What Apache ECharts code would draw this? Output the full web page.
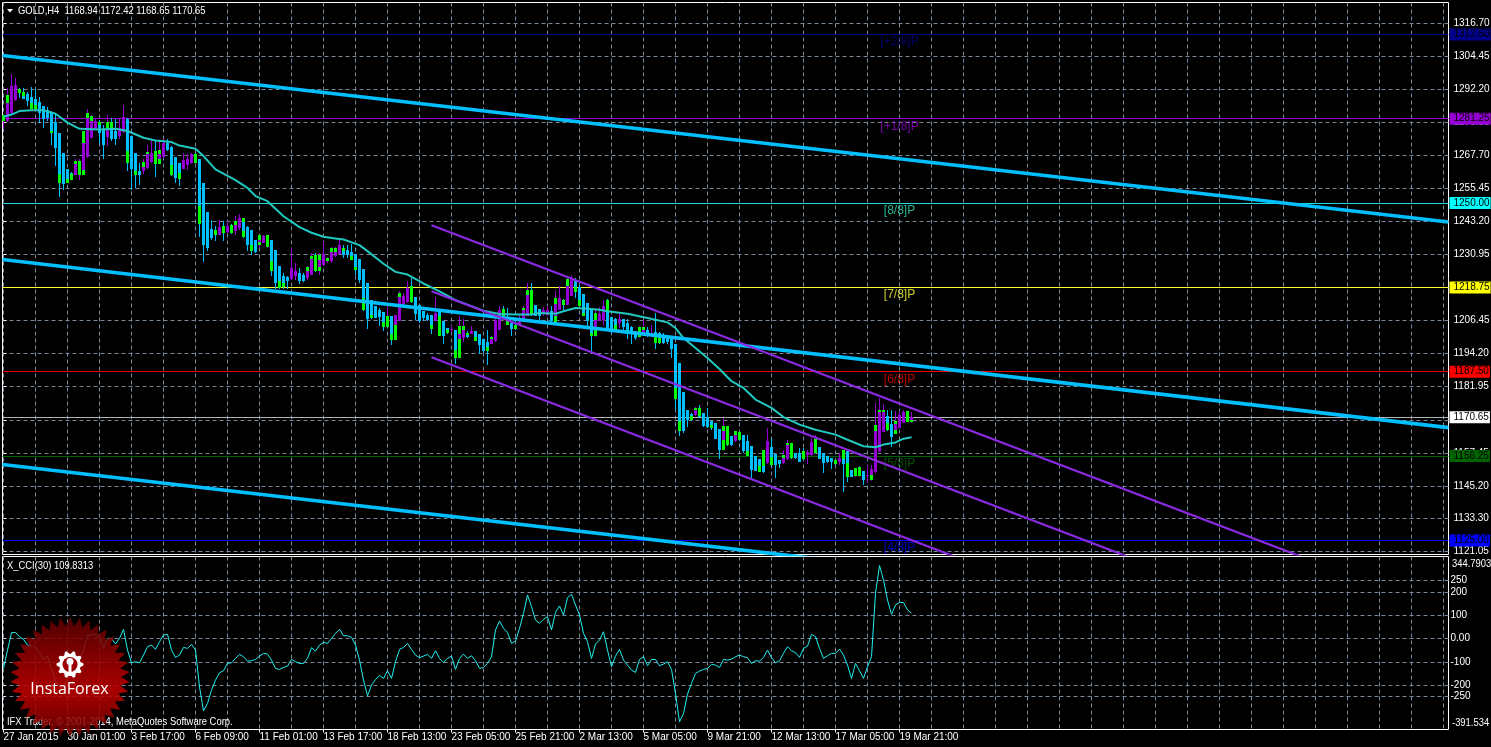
<!DOCTYPE html>
<html><head><meta charset="utf-8">
<style>html,body{margin:0;padding:0;background:#000}#c{width:1491px;height:747px}</style>
<script src="https://cdn.jsdelivr.net/npm/echarts@6/dist/echarts.min.js"></script>
</head><body><div id="c"></div>
<script>
// one row per 4h bar: [open, close, low, high]
const ohlc = [
[1280.4,1282.8,1277.3,1282.8],[1280.4,1289.6,1280.0,1292.7],[1283.2,1293.3,1282.8,1297.7],[1288.2,1293.6,1287.8,1296.2],
[1292.3,1290.9,1289.0,1292.7],[1291.1,1288.6,1288.4,1292.7],[1290.3,1287.8,1285.9,1291.1],[1289.4,1284.9,1284.7,1293.1],
[1288.4,1284.9,1284.7,1292.1],[1287.6,1283.2,1279.5,1289.4],[1285.9,1281.2,1277.9,1285.9],[1284.4,1281.6,1280.4,1285.7],
[1283.5,1275.8,1271.7,1284.1],[1280.1,1270.5,1263.7,1283.5],[1275.8,1257.5,1252.2,1275.8],[1268.4,1256.9,1255.0,1268.4],
[1262.8,1257.5,1257.3,1262.8],[1261.2,1258.7,1258.5,1261.5],[1260.3,1264.9,1260.3,1266.2],[1260.3,1265.5,1258.4,1266.4],
[1260.3,1276.6,1260.3,1276.6],[1267.0,1283.5,1266.8,1284.7],[1274.0,1282.2,1274.0,1282.8],[1277.0,1280.4,1277.0,1281.0],
[1280.0,1275.8,1272.1,1280.7],[1277.5,1271.7,1266.2,1279.1],[1274.6,1280.1,1271.1,1282.5],[1280.1,1273.9,1272.9,1281.6],
[1276.7,1273.9,1271.7,1281.0],[1275.0,1277.9,1273.8,1281.2],[1276.3,1282.0,1276.0,1286.2],[1281.0,1264.7,1261.8,1281.6],
[1274.8,1262.5,1255.0,1274.8],[1268.6,1260.3,1255.6,1268.6],[1261.8,1260.3,1256.6,1264.9],[1261.8,1265.3,1260.6,1266.2],
[1263.1,1268.0,1262.5,1271.7],[1265.3,1268.6,1264.9,1273.8],[1269.2,1264.3,1259.6,1273.0],[1264.3,1269.6,1264.3,1273.0],
[1267.0,1272.3,1266.8,1273.6],[1272.1,1269.6,1269.2,1273.6],[1270.7,1260.3,1260.0,1271.1],[1267.1,1259.4,1257.5,1267.1],
[1264.7,1259.1,1256.3,1264.9],[1262.8,1265.8,1262.5,1268.4],[1264.0,1266.2,1262.2,1268.0],[1264.7,1268.0,1264.3,1268.6],
[1268.0,1264.7,1264.7,1268.6],[1266.2,1242.4,1237.5,1266.2],[1257.5,1234.6,1228.1,1257.5],[1246.6,1233.4,1232.2,1246.6],
[1240.4,1236.9,1236.5,1243.9],[1239.9,1238.1,1235.9,1241.4],[1238.3,1241.2,1238.3,1243.9],[1241.4,1239.0,1235.9,1243.3],
[1239.3,1241.4,1239.0,1243.3],[1242.0,1239.0,1238.7,1242.4],[1239.6,1243.3,1238.3,1245.1],[1240.8,1244.3,1240.2,1245.8],
[1244.3,1237.5,1237.1,1244.5],[1241.2,1234.6,1232.2,1241.4],[1239.9,1232.2,1230.6,1239.9],[1236.5,1231.9,1231.5,1236.5],
[1234.3,1238.0,1233.4,1238.3],[1235.3,1237.7,1235.3,1238.3],[1233.8,1238.0,1233.4,1238.3],[1236.2,1224.8,1222.9,1236.2],
[1232.5,1220.4,1218.0,1232.5],[1226.8,1218.6,1218.0,1226.8],[1223.1,1219.0,1218.0,1224.1],[1222.5,1221.0,1218.0,1222.9],
[1221.7,1226.0,1221.4,1233.4],[1223.1,1224.7,1221.4,1227.8],[1224.1,1221.0,1220.0,1226.0],[1223.3,1221.0,1220.6,1224.1],
[1222.3,1226.3,1221.6,1226.6],[1223.5,1229.3,1223.5,1231.5],[1230.9,1224.7,1224.4,1231.5],[1226.3,1228.8,1223.5,1231.5],
[1227.2,1231.2,1226.8,1235.6],[1228.7,1229.7,1227.8,1230.0],[1228.5,1231.8,1227.8,1233.6],[1230.3,1233.4,1230.0,1233.8],
[1231.3,1234.6,1231.0,1236.9],[1233.4,1230.7,1229.7,1234.6],[1232.5,1230.7,1229.7,1234.3],[1231.9,1228.8,1228.8,1234.9],
[1231.3,1225.1,1223.5,1231.3],[1229.1,1221.6,1220.2,1229.1],[1225.6,1210.2,1209.9,1225.6],[1220.4,1207.2,1203.5,1220.4],
[1214.2,1207.4,1207.2,1214.2],[1211.8,1207.4,1207.4,1211.8],[1210.2,1207.7,1204.4,1211.1],[1209.5,1204.1,1202.5,1209.5],
[1204.1,1208.1,1204.1,1211.8],[1208.3,1199.4,1197.3,1208.3],[1199.4,1208.7,1199.4,1208.7],[1206.4,1216.7,1206.4,1217.6],
[1212.6,1215.7,1212.4,1216.7],[1213.2,1218.6,1213.0,1221.3],[1219.4,1213.2,1213.0,1222.3],[1215.1,1209.0,1206.6,1215.1],
[1212.4,1206.4,1205.6,1212.4],[1209.9,1207.4,1206.2,1209.9],[1208.7,1206.8,1206.2,1209.3],[1208.4,1203.5,1201.5,1208.7],
[1206.4,1209.3,1206.2,1215.2],[1209.9,1200.6,1200.6,1209.9],[1206.2,1200.6,1197.9,1206.2],[1203.7,1201.9,1201.6,1203.7],
[1202.8,1203.4,1202.3,1205.0],[1203.1,1192.6,1190.5,1203.1],[1192.6,1204.6,1192.6,1208.1],[1200.0,1204.6,1198.4,1207.1],
[1201.9,1200.4,1200.0,1202.5],[1201.6,1202.7,1201.3,1204.6],[1202.5,1199.0,1198.8,1202.5],[1201.3,1197.5,1194.2,1201.3],
[1199.6,1195.3,1194.5,1199.6],[1198.5,1195.3,1190.1,1203.1],[1197.9,1200.4,1197.9,1200.9],[1198.8,1206.8,1198.5,1207.4],
[1202.8,1210.5,1202.8,1211.8],[1210.9,1208.1,1208.1,1211.8],[1206.2,1205.0,1204.7,1211.1],[1205.6,1203.5,1200.9,1206.2],
[1205.0,1203.5,1203.1,1206.8],[1205.0,1207.4,1204.7,1208.7],[1207.2,1210.5,1206.8,1211.8],[1208.3,1216.1,1208.1,1220.2],
[1217.9,1208.4,1208.1,1220.2],[1212.4,1208.3,1208.1,1212.4],[1210.8,1208.3,1206.4,1210.8],[1209.3,1210.5,1208.1,1211.5],
[1208.7,1210.5,1208.1,1211.8],[1209.9,1206.2,1205.9,1211.8],[1205.9,1214.8,1205.9,1217.6],[1210.5,1214.8,1210.5,1219.4],
[1214.2,1212.4,1210.5,1214.5],[1212.4,1221.9,1212.2,1222.3],[1215.7,1222.3,1215.7,1223.5],[1221.6,1217.0,1214.9,1222.3],
[1218.9,1211.8,1211.8,1219.8],[1216.3,1208.3,1208.3,1216.3],[1213.0,1206.4,1204.6,1213.0],[1210.2,1200.9,1195.3,1210.2],
[1200.9,1209.3,1200.3,1211.1],[1206.4,1208.9,1206.2,1211.4],[1206.8,1211.8,1205.0,1214.2],[1214.2,1203.1,1203.1,1214.5],
[1207.8,1203.1,1201.3,1207.8],[1207.1,1203.4,1202.9,1207.4],[1205.6,1207.1,1203.7,1209.3],[1207.1,1204.1,1203.1,1207.1],
[1205.6,1201.3,1199.7,1207.1],[1204.0,1201.3,1197.9,1204.4],[1202.5,1200.0,1199.4,1202.5],[1200.3,1204.1,1200.0,1204.4],
[1201.3,1204.1,1201.0,1206.8],[1203.1,1201.3,1200.4,1204.1],[1200.6,1201.9,1200.4,1205.0],[1202.1,1198.2,1195.9,1209.3],
[1201.9,1198.2,1197.6,1202.1],[1200.4,1198.2,1197.6,1201.9],[1200.3,1198.4,1197.9,1201.0],[1200.3,1196.1,1192.6,1200.3],
[1197.9,1177.4,1173.4,1197.9],[1190.8,1165.7,1163.6,1190.8],[1180.0,1165.7,1164.8,1180.0],[1173.4,1169.7,1167.0,1173.4],
[1172.0,1169.7,1169.1,1172.2],[1171.3,1173.9,1171.0,1174.4],[1174.1,1170.6,1170.2,1175.3],[1172.2,1167.3,1167.0,1172.2],
[1170.7,1167.0,1166.7,1174.1],[1169.1,1166.7,1166.0,1169.1],[1168.5,1162.7,1162.6,1168.5],[1166.3,1158.6,1155.2,1166.3],
[1158.6,1167.5,1158.4,1170.4],[1167.5,1160.5,1159.9,1167.5],[1163.6,1160.2,1159.9,1163.6],[1161.7,1165.2,1161.3,1165.4],
[1165.2,1162.3,1161.7,1165.2],[1163.9,1158.0,1157.4,1164.2],[1161.7,1156.4,1156.4,1164.2],[1159.9,1151.2,1147.5,1159.9],
[1156.1,1150.9,1150.6,1156.1],[1155.3,1150.2,1150.2,1155.3],[1158.6,1150.2,1150.0,1158.6],[1153.7,1161.7,1153.3,1166.6],
[1159.6,1153.0,1152.7,1162.9],[1157.1,1152.8,1148.1,1157.1],[1154.9,1153.4,1151.8,1154.9],[1153.7,1156.8,1153.4,1158.6],
[1155.3,1160.8,1154.9,1162.1],[1161.1,1155.5,1155.3,1161.1],[1157.4,1155.5,1155.2,1157.4],[1157.4,1154.0,1154.0,1159.2],
[1158.0,1155.2,1154.9,1159.2],[1156.5,1157.6,1153.4,1158.6],[1156.8,1161.3,1156.4,1162.9],[1157.4,1162.6,1157.0,1164.2],
[1159.6,1155.3,1155.2,1159.6],[1157.4,1153.7,1150.0,1157.4],[1156.1,1154.0,1153.8,1156.1],[1155.4,1154.0,1151.4,1155.4],
[1154.9,1153.4,1153.1,1154.9],[1154.0,1155.4,1153.1,1157.4],[1158.4,1153.4,1142.8,1158.6],[1158.0,1148.4,1146.5,1158.0],
[1151.2,1148.4,1148.4,1151.2],[1148.7,1151.8,1148.4,1151.8],[1148.7,1152.1,1148.4,1152.4],[1150.6,1147.5,1145.6,1150.6],
[1149.2,1149.4,1146.3,1153.0],[1147.5,1151.4,1147.2,1153.0],[1150.2,1167.9,1150.0,1175.9],[1157.6,1173.5,1157.6,1177.8],
[1165.0,1173.5,1165.0,1175.7],[1171.2,1165.8,1165.4,1173.5],[1168.3,1163.3,1159.6,1173.5],[1164.6,1169.4,1164.6,1173.1],
[1166.7,1171.6,1166.7,1173.1],[1168.5,1172.5,1168.5,1173.5],[1172.8,1168.9,1168.9,1173.0],[1168.94,1170.65,1168.65,1172.42]
];
// green stretches painted over bodies: [bar, top price, bottom price]
const greenParts = [
[0,1282.8,1280.4],[1,1289.9,1286.9],[4,1292.3,1290.9],[5,1291.1,1289.8],[7,1286.9,1284.9],[8,1286.5,1284.9],[12,1276.6,1275.8],
[14,1260.6,1257.5],[16,1259.1,1257.5],[17,1260.6,1258.7],[18,1265.5,1264.3],[19,1265.5,1260.3],[20,1276.6,1272.1],[20,1262.2,1260.3],
[21,1283.5,1281.6],[22,1282.2,1280.4],[24,1280.0,1279.0],[26,1280.1,1277.9],[27,1280.1,1277.0],[31,1269.2,1264.7],[33,1261.8,1260.3],
[35,1265.3,1263.5],[36,1269.0,1268.0],[38,1269.2,1264.3],[39,1269.6,1268.0],[39,1266.4,1264.3],[42,1264.1,1260.3],[44,1261.2,1259.1],
[48,1268.0,1264.7],[49,1248.8,1242.4],[53,1239.9,1238.1],[55,1241.4,1239.0],[57,1242.0,1239.0],[58,1243.3,1242.0],[60,1244.3,1242.9],
[60,1239.6,1237.5],[62,1234.6,1232.2],[64,1238.0,1236.5],[64,1235.5,1234.3],[66,1238.0,1233.8],[67,1228.5,1224.8],[69,1221.2,1218.6],
[70,1220.4,1219.0],[76,1226.3,1225.0],[77,1230.5,1229.3],[78,1230.9,1224.7],[79,1230.9,1228.8],[79,1226.3,1224.7],[81,1229.7,1228.7],
[82,1233.4,1231.8],[83,1233.4,1232.0],[85,1233.4,1232.2],[87,1230.3,1228.8],[88,1226.3,1225.1],[90,1214.9,1210.2],[92,1208.7,1207.4],
[95,1206.0,1204.1],[96,1208.1,1204.1],[97,1201.6,1199.4],[98,1204.7,1199.4],[99,1216.7,1215.2],[102,1219.4,1213.2],[107,1205.0,1203.5],
[109,1208.0,1200.6],[111,1202.8,1201.9],[113,1195.7,1192.6],[114,1204.6,1201.6],[114,1199.6,1192.6],[115,1204.6,1203.1],[116,1201.9,1201.0],
[118,1200.4,1199.0],[121,1196.5,1195.3],[122,1200.4,1199.6],[125,1210.9,1208.1],[126,1206.2,1205.0],[128,1205.0,1203.5],[130,1211.1,1210.5],
[131,1217.9,1216.1],[132,1217.9,1208.4],[138,1214.8,1212.7],[138,1208.3,1205.9],[140,1214.2,1212.4],[141,1221.9,1219.4],[143,1219.0,1217.0],
[144,1214.0,1211.8],[145,1209.3,1208.3],[147,1201.9,1200.9],[148,1209.3,1206.8],[148,1203.7,1200.9],[151,1214.2,1209.7],[153,1205.0,1203.4],
[156,1203.0,1201.3],[159,1204.1,1202.0],[159,1201.5,1200.3],[160,1204.1,1203.0],[163,1201.0,1198.2],[164,1200.0,1198.2],[168,1181.5,1177.4],
[169,1169.1,1165.7],[172,1171.0,1169.7],[173,1173.9,1173.2],[174,1174.1,1171.0],[177,1167.9,1166.7],[180,1167.5,1165.4],[180,1162.3,1158.6],
[181,1167.5,1160.5],[183,1165.4,1164.2],[184,1165.2,1162.3],[186,1158.0,1156.4],[189,1152.5,1150.2],[190,1158.6,1152.4],[192,1156.0,1153.0],
[195,1156.8,1155.6],[196,1161.0,1160.4],[197,1161.1,1155.5],[200,1158.0,1155.2],[203,1162.6,1157.4],[208,1154.9,1153.4],[210,1158.4,1155.0],
[211,1153.7,1148.4],[213,1151.8,1148.7],[214,1152.1,1148.7],[217,1149.4,1147.5],[218,1167.9,1165.4],[219,1173.5,1172.5],[220,1173.5,1172.6],
[221,1168.5,1165.8],[223,1169.4,1168.3],[223,1166.0,1164.6],[226,1172.8,1168.9],[227,1169.8,1168.94]
];
// moving average readings: bar index and price
const maBars = [0,2,4,7,10,13,16,19,24,28,31,35,38,42,44,48,50,53,58,61,63,66,70,74,77,80,83,85,89,91,95,98,101,105,109,113,117,120,124,128,132,134,138,140,143,146,149,151,156,161,166,168,170,173,176,179,182,185,188,192,195,199,203,208,211,215,218,220,223,225,227];
const maValues = [1282.0,1282.8,1284.1,1284.4,1284.4,1283.1,1279.8,1277.5,1277.3,1277.5,1276.7,1274.2,1273.2,1272.6,1271.3,1270.1,1267.4,1262.5,1258.5,1255.6,1252.6,1250.7,1245.1,1241.1,1239.0,1237.5,1236.9,1236.5,1234.4,1232.2,1227.5,1224.5,1223.5,1220.2,1217.3,1214.0,1211.8,1210.1,1208.9,1208.7,1208.7,1209.3,1209.0,1209.9,1211.1,1210.8,1210.5,1209.9,1209.0,1207.4,1205.8,1203.7,1200.0,1196.3,1192.6,1188.5,1184.0,1181.5,1177.2,1174.1,1170.7,1167.9,1166.0,1164.2,1162.3,1159.9,1159.5,1160.5,1161.3,1162.7,1163.2];
// CCI(30), one value per bar
const cciValues = [
-128.7,-49.7,25,26.5,7.8,-3.7,-28,-32.5,-35.3,-64,-90,-75.6,-128.7,-186,-200.6,-215,-171.8,-161.8,-128.7,-92.8,-49.7,15,15,19.3,4.9,-42.5,0.6,0.6,-23.8,0.6,39.4,-49.7,-104.3,-100,-104.3,-71.3,-35.3,-28.1,-46.8,-13.8,15,17.8,-49.7,-81.3,-71.3,-38.2,-42.5,-25.3,-49.7,-207.8,-311.2,-279.6,-222.1,-179,-147.4,-138.8,-107.2,-104.3,-85.6,-68.4,-78.4,-97.1,-95.7,-90,-75.6,-64,-66.9,-92.8,-128.7,-133,-124.4,-118.7,-90,-100,-107.2,-107.2,-85.6,-39.6,-54,-28.1,-16.6,-21,0.6,22.1,39.4,
12,12,4.9,-28.1,-92.8,-179,-246.6,-200.6,-176.2,-158.9,-171.8,-138.8,-171.8,-100,-46.8,-38.2,-21,-46.8,-71.3,-82.7,-75.6,-68.4,-85.6,-52.6,-85.6,-102.9,-85.6,-75.6,-133,-85.6,-66.9,-85.6,-74.1,-95.7,-128.7,-124.4,-107.2,-78.4,36.5,75.3,43.7,26.5,-21,-10.9,43.7,108.4,187.4,137.1,79.6,65.3,82.5,94,36.5,112.7,140,101.2,175.9,190.3,144.3,101.2,22.1,-13.8,-85.6,-23.8,-6.6,29.3,-49.7,-121.6,-75.6,-46.8,-92.8,-114.4,-135.9,-146,-90,-78.4,-117.2,-90,-90,-117.2,-110,-100,-133,-236.5,-358.7,
-322.7,-239.4,-193.4,-150.3,-140.2,-133,-128.7,-111.5,-114.4,-124.4,-90,-92.8,-88.5,-78.4,-71.3,-78.4,-82.7,-107.2,-95.7,-97.1,-81.3,-49.7,-82.7,-104.3,-95.7,-64,-35.3,-52.6,-61.2,-81.3,-42.5,-32.5,17.8,7.8,-42.5,-85.6,-74.1,-64,-64,-45.4,-71.3,-114.4,-171.8,-107.2,-138.8,-171.8,-121.6,-78.4,194.6,313.9,252,165.8,104,144.3,155.8,154.4,122.7,109.83
];
// trend lines: [bar, price] end points
const blueLines = [
 [[-0.25,1304.66],[361.25,1242.96]],
 [[-0.25,1229.06],[361.25,1166.8]],
 [[-0.25,1153.1],[361.25,1091.2]]
];
const channelLines = [
 [[107,1241.77],[361.25,1098.2]],
 [[107,1217.32],[361.25,1073.7]],
 [[107,1192.86],[361.25,1049.3]]
];
const levelValues = [1312.50,1281.25,1250.00,1218.75,1187.50,1156.25,1125.00];
const levelNames  = ['[+2/8]P','[+1/8]P','[8/8]P','[7/8]P','[6/8]P','[5/8]P','[4/8]P'];
const levelColors = ['#00008b','#9400d3','#22d8d8','#ffff33','#ee0000','#006400','#0000ff'];
const levelTextColors = ['#00008b','#9400d3','#30e0b8','#ffff33','#ee0000','#006400','#0000ff'];
const levelBoxColors = ['#00008b','#9400d3','#00ffff','#ffff00','#ff0000','#006400','#0000ff'];
const lastPrice = 1170.65;
const priceTicks = [1316.70,1304.45,1292.20,1279.95,1267.70,1255.45,1243.20,1230.95,1218.70,1206.45,1194.20,1181.95,1169.70,1157.45,1145.20,1133.30,1121.05];
const cciTicks = [250,200,100,0,-100,-200,-250];
const dateLabels = ['27 Jan 2015','30 Jan 01:00','3 Feb 17:00','6 Feb 09:00','11 Feb 01:00','13 Feb 17:00','18 Feb 13:00','23 Feb 05:00','25 Feb 21:00','2 Mar 13:00','5 Mar 05:00','9 Mar 21:00','12 Mar 13:00','17 Mar 05:00','19 Mar 21:00'];

const FONT = '"Liberation Sans",sans-serif';
const GRIDC = '#77889a';
const BLUE = '#00bfff', PURPLE = '#9400d3', GREEN = '#00ff00';
const gridTicks = []; for (let i = 0; i <= 360; i += 8) gridTicks.push(i);
const labelTicks = dateLabels.map((_, k) => k * 16);

const baseX = gi => ({
  type: 'value', gridIndex: gi, min: -0.25, max: 361.25, position: 'bottom',
  axisLine: {show: false},
  axisTick: {show: false, customValues: gridTicks},
  axisLabel: {show: false},
  splitLine: {show: true, lineStyle: {color: GRIDC, width: 1, type: [4, 3]}}
});

function bars(params, api) {
  const i = api.value(0), o = api.value(1), c = api.value(2), l = api.value(3), h = api.value(4);
  const col = c >= o ? PURPLE : BLUE;
  const x = Math.floor(api.coord([i, o])[0]);
  const yo = Math.round(api.coord([i, o])[1]), yc = Math.round(api.coord([i, c])[1]);
  const yl = Math.round(api.coord([i, l])[1]), yh = Math.round(api.coord([i, h])[1]);
  return {type: 'group', children: [
    {type: 'rect', shape: {x: x, y: yh, width: 1, height: Math.max(1, yl - yh)}, style: {fill: col}},
    {type: 'rect', shape: {x: x - 1, y: Math.min(yo, yc), width: 3, height: Math.max(1, Math.abs(yo - yc))}, style: {fill: col}}
  ]};
}
function greens(params, api) {
  const i = api.value(0);
  const x = Math.floor(api.coord([i, api.value(1)])[0]);
  const yt = Math.round(api.coord([i, api.value(1)])[1]), yb = Math.round(api.coord([i, api.value(2)])[1]);
  return {type: 'rect', shape: {x: x - 1, y: yt, width: 3, height: Math.max(1, yb - yt)}, style: {fill: GREEN}};
}

const levelLabel = (txt, bg) => ({show: true, position: 'end', distance: 1, formatter: txt, color: '#000', fontFamily: FONT, fontSize: 10,
  backgroundColor: bg, padding: [1, 1, 1, 4], lineHeight: 10});
const levelLineData = levelValues.map((v, k) => ({
  yAxis: v, lineStyle: {color: levelColors[k], width: 1, type: 'solid'},
  label: levelLabel(v.toFixed(2), levelBoxColors[k])
}));
levelLineData.push({
  yAxis: lastPrice, lineStyle: {color: '#b4b4b4', width: 1, type: 'solid'},
  label: levelLabel(lastPrice.toFixed(2), '#fff')
});

const series = [
  {type: 'line', xAxisIndex: 0, yAxisIndex: 0, data: [], z: 1, silent: true,
   markLine: {silent: true, symbol: 'none', animation: false, z: 1, data: levelLineData}},
  {type: 'scatter', xAxisIndex: 0, yAxisIndex: 0, z: 2, symbolSize: 1, itemStyle: {color: 'rgba(0,0,0,0)'},
   data: levelValues.map((v, k) => ({value: [224, v], label: {show: true, position: 'bottom', distance: 1, formatter: levelNames[k],
     color: levelTextColors[k], fontFamily: FONT, fontSize: 12}}))},
  {type: 'custom', xAxisIndex: 0, yAxisIndex: 0, z: 3, clip: true, renderItem: bars,
   data: ohlc.map((r, i) => [i, r[0], r[1], r[2], r[3]]), encode: {x: 0, y: [1, 2, 3, 4]}},
  {type: 'custom', xAxisIndex: 0, yAxisIndex: 0, z: 4, clip: true, renderItem: greens,
   data: greenParts, encode: {x: 0, y: [1, 2]}},
  {type: 'line', xAxisIndex: 0, yAxisIndex: 0, z: 5, symbol: 'none', lineStyle: {color: '#20c8c0', width: 2},
   data: maBars.map((b, k) => [b, maValues[k]])},
  ...blueLines.map(d => ({type: 'line', xAxisIndex: 0, yAxisIndex: 0, z: 6, symbol: 'none', clip: true, lineStyle: {color: BLUE, width: 3.6}, data: d})),
  ...channelLines.map(d => ({type: 'line', xAxisIndex: 0, yAxisIndex: 0, z: 6, symbol: 'none', clip: true, lineStyle: {color: '#8a2be2', width: 2.2}, data: d})),
  {type: 'line', xAxisIndex: 1, yAxisIndex: 1, z: 3, symbol: 'none', lineStyle: {color: '#20f0f0', width: 1},
   data: cciValues.map((v, i) => [i, v])}
];

// decorative badge
const cx = 70, cy = 677;
const star = [];
for (let k = 0; k < 76; k++) {
  const r = k % 2 ? 51 : 60, t = Math.PI * 2 * k / 76 - Math.PI / 2;
  star.push([cx + r * Math.cos(t), cy + r * Math.sin(t)]);
}
const gear = [];
for (let k = 0; k < 40; k++) {
  const r = (k % 4 < 2) ? 13.5 : 10.8, t = Math.PI * 2 * (k - 0.5) / 40;
  gear.push([cx + r * Math.cos(t), 664.5 + r * Math.sin(t)]);
}
const squeezed = (text, x, y) => ({type: 'text', z: 200, x: x, y: y, scaleX: 0.855, originX: 0,
  style: {text: text, x: 0, y: 0, fill: '#fff', font: '11px ' + FONT, textVerticalAlign: 'middle'}});
const gfx = [
  {type: 'polygon', z: 200, shape: {points: [[7, 9], [13, 9], [10, 12.5]]}, style: {fill: '#fff'}},
  squeezed('GOLD,H4  1168.94 1172.42 1168.65 1170.65', 18, 10.5),
  squeezed('X_CCI(30) 109.8313', 7, 565.5),
  squeezed('IFX Trader, \u00a9 2001-2014, MetaQuotes Software Corp.', 7, 722),
  squeezed('344.7903', 1452, 563.7),
  squeezed('-391.534', 1452, 722.7),
  {type: 'polygon', z: 210, shape: {points: star}, style: {opacity: 0.86, fill: {type: 'linear', x: 0, y: 0, x2: 0, y2: 1,
     colorStops: [{offset: 0, color: '#5c0000'}, {offset: 0.35, color: '#9a0000'}, {offset: 0.62, color: '#c40000'}, {offset: 1, color: '#6c0000'}]}}},
  {type: 'polygon', z: 211, shape: {points: gear}, style: {fill: '#fff'}},
  {type: 'circle', z: 212, shape: {cx: cx, cy: 664.5, r: 7.5}, style: {fill: '#9c0000'}},
  {type: 'circle', z: 213, shape: {cx: cx, cy: 661.5, r: 3.5}, style: {fill: '#fff'}},
  {type: 'rect', z: 213, shape: {x: cx - 1.5, y: 662, width: 3, height: 14}, style: {fill: '#fff'}},
  {type: 'text', z: 214, style: {text: 'InstaForex', x: cx - 0.5, y: 689.5, fill: '#fff', font: '16px "Open Sans",sans-serif', textAlign: 'center', textVerticalAlign: 'middle'}}
];

const chart = echarts.init(document.getElementById('c'), null, {renderer: 'canvas'});
chart.setOption({
  animation: false,
  backgroundColor: '#000',
  grid: [
    {left: 2.5, width: 1446, top: 2.5, height: 552, show: true, borderColor: '#fff', borderWidth: 1, backgroundColor: 'transparent', outerBoundsMode: 'none', containLabel: false},
    {left: 2.5, width: 1446, top: 556.5, height: 173, show: true, borderColor: '#fff', borderWidth: 1, backgroundColor: 'transparent', outerBoundsMode: 'none', containLabel: false}
  ],
  xAxis: [
    baseX(0), baseX(1),
    {type: 'value', gridIndex: 1, min: -0.25, max: 361.25, position: 'bottom', axisLine: {show: false},
     axisTick: {show: true, length: 3, customValues: labelTicks, lineStyle: {color: '#fff'}},
     axisLabel: {show: true, customValues: labelTicks, align: 'left', margin: 3, color: '#fff', fontFamily: FONT, fontSize: 10,
                 formatter: v => dateLabels[Math.round(v / 16)]},
     splitLine: {show: false}}
  ],
  yAxis: [
    {type: 'value', gridIndex: 0, position: 'right', min: 1119.78, max: 1324.32, scale: true, axisLine: {show: false},
     axisTick: {show: true, length: 3, customValues: priceTicks, lineStyle: {color: '#fff'}},
     axisLabel: {show: true, customValues: priceTicks, margin: 5, color: '#fff', fontFamily: FONT, fontSize: 10, formatter: v => v.toFixed(2)},
     splitLine: {show: true, lineStyle: {color: GRIDC, width: 1, type: [4, 3]}}},
    {type: 'value', gridIndex: 1, position: 'right', min: -391.534, max: 353, axisLine: {show: false},
     axisTick: {show: true, length: 2, customValues: cciTicks, lineStyle: {color: '#fff'}},
     axisLabel: {show: true, customValues: cciTicks, margin: 2, color: '#fff', fontFamily: FONT, fontSize: 10, formatter: v => v === 0 ? '0.00' : String(v)},
     splitLine: {show: true, lineStyle: {color: GRIDC, width: 1, type: [4, 3]}}}
  ],
  series: series,
  graphic: {elements: gfx}
});
</script></body></html>
